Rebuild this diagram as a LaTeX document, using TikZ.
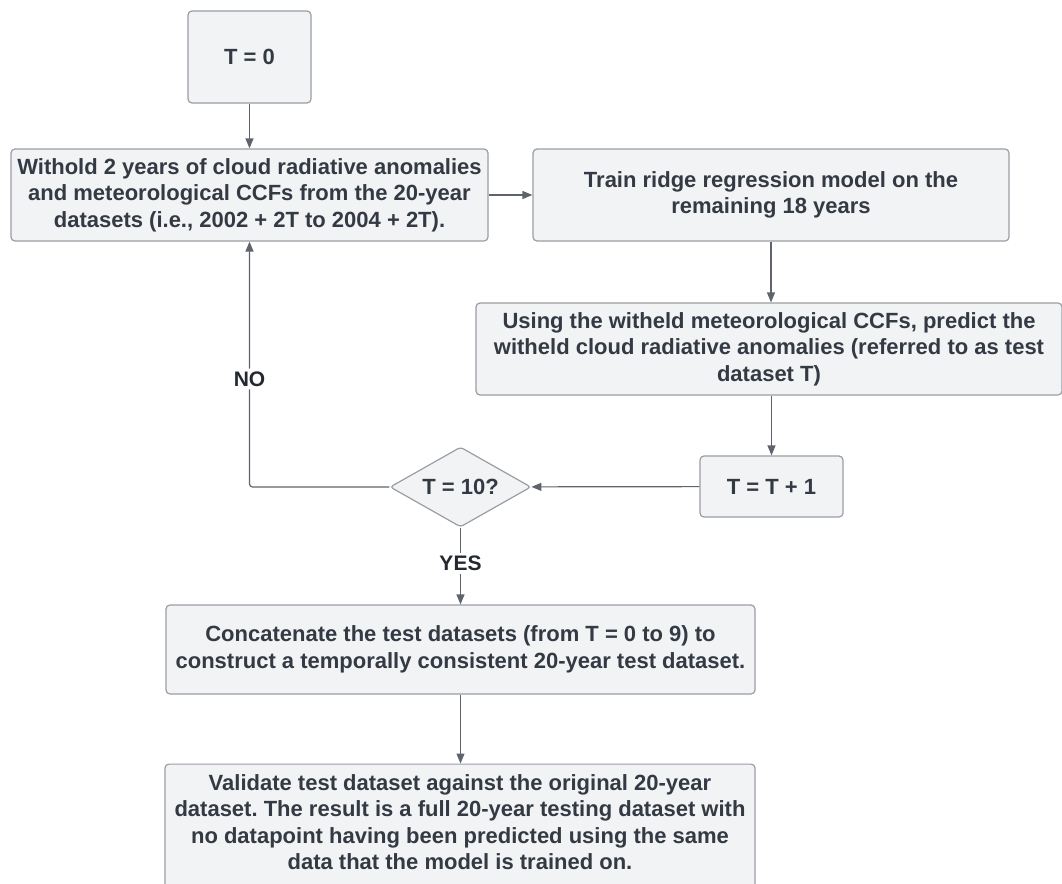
\documentclass[tikz,border=0pt]{standalone}
\usepackage{fontspec}
\setmainfont{Liberation Sans}
\usetikzlibrary{arrows.meta,shapes.geometric}
\definecolor{boxfill}{HTML}{F2F3F5}
\definecolor{boxline}{HTML}{9A9DA3}
\definecolor{txt}{HTML}{343A44}
\definecolor{arr}{HTML}{5F646C}
\frenchspacing
\begin{document}
\begin{tikzpicture}[x=1pt,y=-1pt,
  box/.style={draw=boxline,fill=boxfill,rounded corners=4pt,line width=1.2pt,text=txt,
    font=\bfseries\fontsize{22}{26.5}\selectfont,align=center,inner sep=0pt},
  plaintext/.style={text=txt,font=\bfseries\fontsize{22}{26.5}\selectfont,align=center,inner sep=0pt},
  conn/.style={draw=arr,line width=1.2pt,-{Triangle[length=10pt,width=8pt]}},
  lab/.style={fill=white,text=txt!70!black,font=\bfseries\fontsize{21}{24}\selectfont,inner sep=3pt}]
\useasboundingbox (0,0) rectangle (1062,883);
\node[box,minimum width=123pt,minimum height=92pt] (t0) at (249.5,57) {T = 0};
\node[box,minimum width=477pt,minimum height=92pt] (wh) at (249.5,195)
  {Withold 2 years of cloud radiative anomalies\\and meteorological CCFs from the 20-year\\datasets (i.e., 2002 + 2T to 2004 + 2T).};
\node[box,minimum width=476pt,minimum height=92pt] (tr) at (771,195)
  {Train ridge regression model on the\\remaining 18 years};
\node[box,minimum width=586pt,minimum height=92pt] (us) at (769,349)
  {Using the witheld meteorological CCFs, predict the\\witheld cloud radiative anomalies (referred to as test\\dataset T)};
\node[box,minimum width=143pt,minimum height=61pt] (inc) at (771.5,486.5) {T = T + 1};
\node[box,diamond,rounded corners=3pt,minimum width=141pt,minimum height=80pt,shape aspect=1.76] (dia) at (460.5,487) {T = 10?};
\node[box,minimum width=589pt,minimum height=89pt] (cc) at (460.5,649.5)
  {Concatenate the test datasets (from T = 0 to 9) to\\construct a temporally consistent 20-year test dataset.};
\node[box,minimum width=590pt,minimum height=160pt,anchor=north] (va) at (460,763.5) {};
\node[plaintext] (vatext) at (460,822)
  {Validate test dataset against the original 20-year\\dataset. The result is a full 20-year testing dataset with\\no datapoint having been predicted using the same\\data that the model is trained on.};
\draw[conn] (t0) -- (wh);
\draw[conn] (wh) -- (tr);
\draw[conn] (tr) -- (tr|-us.north);
\draw[conn] (us.south-|inc) -- (inc);
\draw[conn] (inc) -- (dia);
\draw[conn,rounded corners=3pt] (dia.west) -| node[lab,pos=0.72]{NO} (wh.south);
\draw[conn] (dia.south) -- node[lab,pos=0.47]{YES} (cc.north-|dia.south);
\draw[conn] (cc.south) -- (va.north-|cc.south);
\end{tikzpicture}
\end{document}
